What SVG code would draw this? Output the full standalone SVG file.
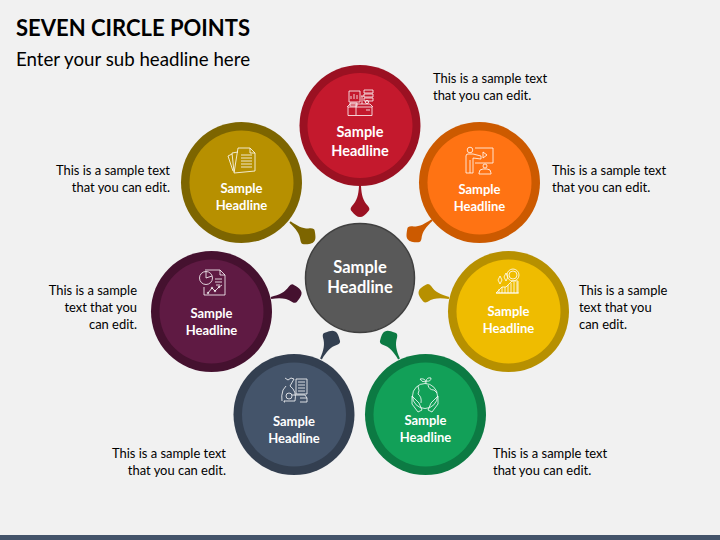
<svg xmlns="http://www.w3.org/2000/svg" width="720" height="540" viewBox="0 0 720 540">
<style>
text{font-family:"Lato","Liberation Sans",sans-serif}
.t{font-size:22px;font-weight:700;fill:#000}
.s{font-size:18.7px;fill:#000}
.b{font-size:12.95px;fill:#000}
.e{text-anchor:end}
.l{font-size:13px;font-weight:700;fill:#fff;text-anchor:middle}
.m{font-size:14.5px;font-weight:700;fill:#fff;text-anchor:middle}
.c{font-size:16.5px;font-weight:700;fill:#fff;text-anchor:middle}
.i{fill:none;stroke:#fff;stroke-width:.8}
</style>
<defs>
<path id="drop" d="M-1,0 L1,0 C1.500,9 3,15 8,20 Q10.500,23 8.500,25 C5,29 3,31 0,31 C-3,31 -5,29 -8.500,25 Q-10.500,23 -8,20 C-3,15 -1.500,9 -1,0Z"/>
</defs>
<rect width="720" height="540" fill="#f1f1f1"/>
<rect y="535" width="720" height="5" fill="#44546a"/>
<text class="t" x="16" y="36">SEVEN CIRCLE POINTS</text>
<text class="s" x="16" y="66">Enter your sub headline here</text>

<g id="connectors">
<use href="#drop" transform="translate(360,186)" fill="#9b1122"/>
<use href="#drop" transform="translate(432,220) rotate(51)" fill="#cc5a00"/>
<use href="#drop" transform="translate(290,222) rotate(-51)" fill="#7d6500"/>
<use href="#drop" transform="translate(271,298) rotate(-101)" fill="#45112f"/>
<use href="#drop" transform="translate(449,298) rotate(102)" fill="#b79000"/>
<use href="#drop" transform="translate(321,359) rotate(-153)" fill="#333f50"/>
<use href="#drop" transform="translate(399,359) rotate(153)" fill="#0c7a43"/>
</g>

<g id="node-center">
<circle cx="360" cy="278" r="54.500" fill="#595959" stroke="#404040" stroke-width="1.500"/>
<text class="c" x="360" y="273">Sample</text><text class="c" x="360" y="293">Headline</text>
</g>

<g id="node-red">
<circle cx="360" cy="125.500" r="60.500" fill="#9b1122"/><circle cx="360" cy="125.500" r="52.500" fill="#c4192d"/>
<g class="i"><path d="M348,107h24v8.500h-24zM347,107l3,-3h20l3,3M356,104v11M366,110h4"/><path d="M349,91h11v11h-11zM351,99v-3M354,99v-5M357,99v-4"/><path d="M364,90h9v3h-9zM364,94h9v3h-9zM364,98h9v3h-9zM361,96h3M362,96v8"/><path d="M350,103h7v3h-7z"/><circle cx="367" cy="102" r="1.600"/></g>
<text class="m" x="360" y="137">Sample</text><text class="m" x="360" y="156">Headline</text>
</g>

<g id="node-orange">
<circle cx="479.500" cy="182.500" r="60.500" fill="#cc5a00"/><circle cx="479.500" cy="182.500" r="52" fill="#ff7313"/>
<g class="i"><circle cx="470" cy="150" r="2.800"/><path d="M475,148h18v15h-18M466,173v-17q0,-2 2,-2h5l8,2v3l-8,-1v15h-7M470,160v13M483,152l4,3l-4,3z"/><circle cx="485" cy="166" r="2"/><path d="M479,174v-1q0,-4 4,-4h4q4,0 4,4v1z"/></g>
<text class="l" x="479.500" y="194">Sample</text><text class="l" x="479.500" y="211">Headline</text>
</g>

<g id="node-olive">
<circle cx="241.500" cy="182.500" r="60.500" fill="#7d6500"/><circle cx="241.500" cy="182.500" r="52" fill="#b79000"/>
<g class="i"><path d="M238,148h12l5,5v18l-21,2zM250,148v5h5M238,152l-6,1l2,19M232,154l-4,2l5,15"/><path d="M241,155h11M241,158h11M241,161h11M241,164h11M241,167h11"/></g>
<text class="l" x="241.500" y="193">Sample</text><text class="l" x="241.500" y="210">Headline</text>
</g>

<g id="node-purple">
<circle cx="211.500" cy="311.500" r="60.500" fill="#45112f"/><circle cx="211.500" cy="311.500" r="52" fill="#5f1a43"/>
<g class="i"><path d="M205,270h15l5,5v20h-21v-8M220,270v5h5"/><circle cx="206" cy="278" r="6.500"/><path d="M206,278v-6.500M206,278l6,-2"/><path d="M215,279h7M215,282h7M216,285h4"/><path d="M208,293l4,-5l3,3l4,-4l3,-2"/><circle cx="208" cy="293" r=".8"/><circle cx="212" cy="288" r=".8"/><circle cx="215" cy="291" r=".8"/><circle cx="219" cy="287" r=".8"/></g>
<text class="l" x="211.500" y="318">Sample</text><text class="l" x="211.500" y="335">Headline</text>
</g>

<g id="node-yellow">
<circle cx="508.500" cy="311.500" r="60.500" fill="#b79000"/><circle cx="508.500" cy="311.500" r="52" fill="#efbc00"/>
<g class="i"><circle cx="513" cy="275" r="6"/><circle cx="513" cy="275" r="4"/><path d="M496,293l6,-6h4l6,-6h6v12zM499,293v-4M502,293v-6M505,293v-6M508,293v-8M511,293v-10M514,293v-11M517,293v-11M496,293h23"/><path d="M498,280l2,-4l2,4l-2,4zM504,277l2,-4l2,4l-2,4z"/></g>
<text class="l" x="508.500" y="316">Sample</text><text class="l" x="508.500" y="333">Headline</text>
</g>

<g id="node-navy">
<circle cx="294" cy="414.500" r="60.500" fill="#333f50"/><circle cx="294" cy="414.500" r="52" fill="#44546a"/>
<g class="i"><path d="M296,379h11v15h-11zM298,382h7M298,385h7M298,388h7M298,391h7M285,378l3,2l3,-2l3,1l-4,7q7,5 5,15h-10q-1,-1 -1,1h1M286,386l-3,4q-2,6 -1,11"/><circle cx="289" cy="396" r="3"/><path d="M292,395h13l2,3M300,398h7v4h-7"/></g>
<text class="l" x="294" y="426">Sample</text><text class="l" x="294" y="443">Headline</text>
</g>

<g id="node-green">
<circle cx="425.500" cy="414.500" r="60.500" fill="#0c7a43"/><circle cx="425.500" cy="414.500" r="52" fill="#12a058"/>
<g class="i"><circle cx="425" cy="396" r="12.500"/><path d="M426,384v-3M426,382q-5,0 -6,-3q5,-1 6,3M426,381q1,-4 5,-3q0,4 -5,3M418,386q2,5 0,8q4,3 3,9M428,385q1,5 6,5l3,3"/><path d="M412,396l7,7l3,7l-4,2l-6,-8zM438,396l-7,7l-3,7l4,2l6,-8z"/></g>
<text class="l" x="425.500" y="425">Sample</text><text class="l" x="425.500" y="442">Headline</text>
</g>

<g id="texts">
<text class="b" x="433" y="83">This is a sample text</text><text class="b" x="433" y="100">that you can edit.</text>
<text class="b" x="552" y="175">This is a sample text</text><text class="b" x="552" y="192">that you can edit.</text>
<text class="b e" x="170" y="175">This is a sample text</text><text class="b e" x="170" y="192">that you can edit.</text>
<text class="b e" x="137" y="295">This is a sample</text><text class="b e" x="137" y="312">text that you</text><text class="b e" x="137" y="329">can edit.</text>
<text class="b" x="579" y="295">This is a sample</text><text class="b" x="579" y="312">text that you</text><text class="b" x="579" y="329">can edit.</text>
<text class="b e" x="226" y="458">This is a sample text</text><text class="b e" x="226" y="475">that you can edit.</text>
<text class="b" x="493" y="458">This is a sample text</text><text class="b" x="493" y="475">that you can edit.</text>
</g>
</svg>
